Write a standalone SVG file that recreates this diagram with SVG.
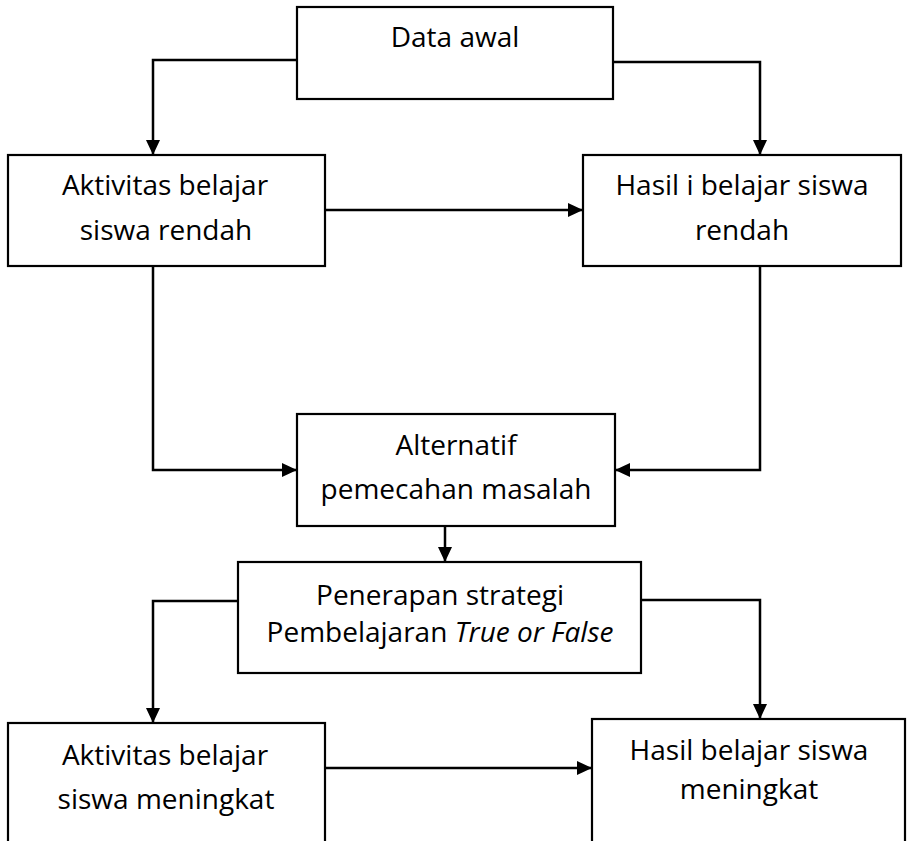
<svg xmlns="http://www.w3.org/2000/svg" width="907" height="841" viewBox="0 0 907 841">
<defs>
<style>
.box{fill:#fff;stroke:#000;stroke-width:2.2}
.t{font-family:"Open Sans","Liberation Sans",sans-serif;font-size:28px;fill:#000;text-anchor:middle}
.c{fill:none;stroke:#000;stroke-width:2.5}
</style>
<marker id="ah" markerUnits="userSpaceOnUse" markerWidth="16" markerHeight="15" refX="15" refY="7" orient="auto">
<path d="M0,0 L15,7 L0,14 z" fill="#000"/>
</marker>
</defs>
<rect width="907" height="841" fill="#fff"/>
<g id="connectors">
<path class="c" d="M297,60 H153 V155" marker-end="url(#ah)"/>
<path class="c" d="M613,62 H760 V155" marker-end="url(#ah)"/>
<path class="c" d="M325,210 H583" marker-end="url(#ah)"/>
<path class="c" d="M153,266 V470 H297" marker-end="url(#ah)"/>
<path class="c" d="M760,266 V470 H615" marker-end="url(#ah)"/>
<path class="c" d="M445,526 V562" marker-end="url(#ah)"/>
<path class="c" d="M238,601 H153 V723" marker-end="url(#ah)"/>
<path class="c" d="M641,600 H760 V719" marker-end="url(#ah)"/>
<path class="c" d="M325,768 H592" marker-end="url(#ah)"/>
</g>
<g id="data-awal">
<rect class="box" x="297" y="7" width="316" height="92"/>
<text class="t" x="455" y="47">Data awal</text>
</g>
<g id="aktivitas-rendah">
<rect class="box" x="8" y="155" width="317" height="111"/>
<text class="t" x="165" y="195">Aktivitas belajar</text>
<text class="t" x="166" y="240">siswa rendah</text>
</g>
<g id="hasil-rendah">
<rect class="box" x="583" y="155" width="318" height="111"/>
<text class="t" x="742" y="195">Hasil i belajar siswa</text>
<text class="t" x="742" y="240">rendah</text>
</g>
<g id="alternatif">
<rect class="box" x="297" y="414" width="318" height="112"/>
<text class="t" x="456" y="455">Alternatif</text>
<text class="t" x="456" y="499">pemecahan masalah</text>
</g>
<g id="penerapan">
<rect class="box" x="238" y="562" width="403" height="111"/>
<text class="t" x="440" y="605">Penerapan strategi</text>
<text class="t" x="440" y="642">Pembelajaran <tspan font-style="italic">True or False</tspan></text>
</g>
<g id="aktivitas-meningkat">
<rect class="box" x="8" y="723" width="317" height="130"/>
<text class="t" x="165" y="765">Aktivitas belajar</text>
<text class="t" x="166" y="809">siswa meningkat</text>
</g>
<g id="hasil-meningkat">
<rect class="box" x="592" y="719" width="313" height="134"/>
<text class="t" x="749" y="760">Hasil belajar siswa</text>
<text class="t" x="749" y="799">meningkat</text>
</g>
</svg>
